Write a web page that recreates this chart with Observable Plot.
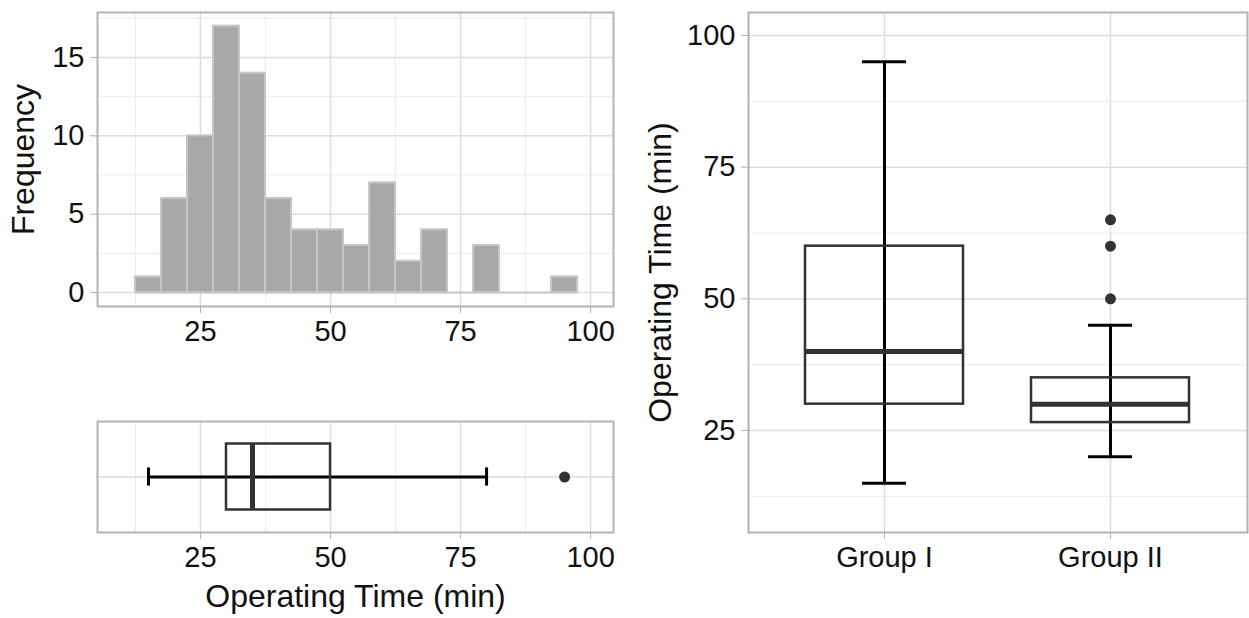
<!DOCTYPE html>
<html>
<head>
<meta charset="utf-8">
<script src="https://cdn.jsdelivr.net/npm/d3@7"></script>
<script src="https://cdn.jsdelivr.net/npm/@observablehq/plot@0.6"></script>
<style>
  html, body { margin: 0; padding: 0; background: #fff; }
  #wrap { position: relative; width: 1249px; height: 618px; overflow: hidden; background: #fff; }
  .panel { position: absolute; }
</style>
</head>
<body>
<div id="wrap">
  <div class="panel" id="hist" style="left:0;top:0;"></div>
  <div class="panel" id="box1" style="left:0;top:400px;"></div>
  <div class="panel" id="box2" style="left:630px;top:0;"></div>
</div>
<script>
// ---------- DATA ----------
// Histogram of operating time (bin width 5 min)
const binLo     = [12.5, 17.5, 22.5, 27.5, 32.5, 37.5, 42.5, 47.5, 52.5, 57.5, 62.5, 67.5, 72.5, 77.5, 82.5, 87.5, 92.5];
const binHi     = [17.5, 22.5, 27.5, 32.5, 37.5, 42.5, 47.5, 52.5, 57.5, 62.5, 67.5, 72.5, 77.5, 82.5, 87.5, 92.5, 97.5];
const binCounts = [1, 6, 10, 17, 14, 6, 4, 4, 3, 7, 2, 4, 0, 3, 0, 0, 1];

// Overall boxplot summary (min)
const allLower = [15];
const allQ1 = [30];
const allMedian = [35];
const allQ3 = [50];
const allUpper = [80];
const allOutliers = [95];

// Grouped boxplot summary (min)
const groups      = ["Group I", "Group II"];
const groupLower  = [15, 20];
const groupQ1     = [30, 26.5];
const groupMedian = [40, 30];
const groupQ3     = [60, 35];
const groupUpper  = [95, 45];
const outlierGroup = ["Group II", "Group II", "Group II"];
const outlierValue = [50, 60, 65];

// Tick labels / grid breaks
const timeTicks      = [25, 50, 75, 100];
const timeMinorTicks = [12.5, 37.5, 62.5, 87.5];
const freqTicks      = [0, 5, 10, 15];
const freqMinorTicks = [2.5, 7.5, 12.5, 17.5];

// ---------- TABLES ----------
const bins = binLo.map((lo, i) => ({lo, hi: binHi[i], count: binCounts[i]}));
const allStats = [{lower: allLower[0], q1: allQ1[0], median: allMedian[0], q3: allQ3[0], upper: allUpper[0]}];
const groupStats = groups.map((g, i) => ({group: g, lower: groupLower[i], q1: groupQ1[i], median: groupMedian[i], q3: groupQ3[i], upper: groupUpper[i]}));
const outliers = outlierGroup.map((g, i) => ({group: g, value: outlierValue[i]}));

// ---------- STYLE ----------
const FONT = "'Liberation Sans', Arial, Helvetica, sans-serif";
const MAJOR = "#dedede", MINOR = "#ededed", BORDER = "#b3b3b3", TEXT = "#111111";
const BOXC = "#333333";
const TICKFS = "29px", TITLEFS = 32;
const style = {fontFamily: FONT, fontSize: TICKFS, color: TEXT, background: "white", overflow: "visible"};

// ---------- HISTOGRAM ----------
const hist = Plot.plot({
  width: 630, height: 340,
  marginLeft: 97, marginRight: 17, marginTop: 12, marginBottom: 34,
  x: {domain: [5.2, 104.4]},
  y: {domain: [-0.89, 17.87]},
  style,
  marks: [
    Plot.ruleX(timeMinorTicks, {stroke: MINOR, strokeWidth: 1}),
    Plot.ruleY(freqMinorTicks, {stroke: MINOR, strokeWidth: 1}),
    Plot.ruleX(timeTicks, {stroke: MAJOR, strokeWidth: 1.5}),
    Plot.ruleY(freqTicks, {stroke: MAJOR, strokeWidth: 1.5}),
    Plot.rect(bins, {x1: "lo", x2: "hi", y1: 0, y2: "count", fill: "#a8a8a8", stroke: "#c6c6c6", strokeWidth: 2}),
    Plot.ruleY(bins, {y: 0, x1: "lo", x2: "hi", stroke: "#c6c6c6", strokeWidth: 2}),
    Plot.frame({stroke: BORDER, strokeWidth: 2}),
    Plot.axisX(timeTicks, {tickSize: 7, tickPadding: 7, stroke: BORDER, fill: TEXT, label: null}),
    Plot.axisY(freqTicks, {tickSize: 7, tickPadding: 6, stroke: BORDER, fill: TEXT, label: null}),
    Plot.text(["Frequency"], {text: d => d, frameAnchor: "left", textAnchor: "middle", dx: -74, rotate: -90, fontSize: TITLEFS, fill: TEXT})
  ]
});
document.getElementById("hist").appendChild(hist);

// ---------- OVERALL BOXPLOT (horizontal) ----------
const BOXH = 0.654, CAPH = 0.18;
const box1 = Plot.plot({
  width: 630, height: 218,
  marginLeft: 97, marginRight: 17, marginTop: 21, marginBottom: 86,
  x: {domain: [5.2, 104.4]},
  y: {domain: [-1.1, 1.1], axis: null},
  style,
  marks: [
    Plot.ruleX(timeMinorTicks, {stroke: MINOR, strokeWidth: 1}),
    Plot.ruleX(timeTicks, {stroke: MAJOR, strokeWidth: 1.5}),
    Plot.ruleY([0], {stroke: MAJOR, strokeWidth: 1.5}),
    Plot.ruleY(allStats, {y: 0, x1: "lower", x2: "upper", stroke: "#000", strokeWidth: 3}),
    Plot.ruleX(allStats, {x: "lower", y1: -CAPH, y2: CAPH, stroke: "#000", strokeWidth: 3}),
    Plot.ruleX(allStats, {x: "upper", y1: -CAPH, y2: CAPH, stroke: "#000", strokeWidth: 3}),
    Plot.rect(allStats, {x1: "q1", x2: "q3", y1: -BOXH, y2: BOXH, fill: "none", stroke: BOXC, strokeWidth: 2.5}),
    Plot.ruleX(allStats, {x: "median", y1: -BOXH, y2: BOXH, stroke: BOXC, strokeWidth: 5}),
    Plot.dot(allOutliers, {x: d => d, y: 0, r: 5.5, fill: BOXC, stroke: "none"}),
    Plot.frame({stroke: BORDER, strokeWidth: 2}),
    Plot.axisX(timeTicks, {tickSize: 7, tickPadding: 7, stroke: BORDER, fill: TEXT, label: null}),
    Plot.text(["Operating Time (min)"], {text: d => d, frameAnchor: "bottom", dy: 74, fontSize: TITLEFS, fill: TEXT})
  ]
});
document.getElementById("box1").appendChild(box1);

// ---------- GROUPED BOXPLOT (vertical) ----------
const CAP_INSET = 57;
const box2 = Plot.plot({
  width: 619, height: 618,
  marginLeft: 118, marginRight: 2, marginTop: 12, marginBottom: 86,
  x: {type: "band", domain: groups, paddingInner: 0.3, paddingOuter: 0.25},
  y: {domain: [5.63, 104.37]},
  style,
  marks: [
    Plot.ruleY(timeMinorTicks, {stroke: MINOR, strokeWidth: 1}),
    Plot.ruleY(timeTicks, {stroke: MAJOR, strokeWidth: 1.5}),
    Plot.ruleX(groups, {stroke: MAJOR, strokeWidth: 1.5}),
    Plot.ruleX(groupStats, {x: "group", y1: "lower", y2: "upper", stroke: "#000", strokeWidth: 3}),
    Plot.tickY(groupStats, {x: "group", y: "lower", insetLeft: CAP_INSET, insetRight: CAP_INSET, stroke: "#000", strokeWidth: 3}),
    Plot.tickY(groupStats, {x: "group", y: "upper", insetLeft: CAP_INSET, insetRight: CAP_INSET, stroke: "#000", strokeWidth: 3}),
    Plot.barY(groupStats, {x: "group", y1: "q1", y2: "q3", inset: 0, fill: "none", stroke: BOXC, strokeWidth: 2.5}),
    Plot.tickY(groupStats, {x: "group", y: "median", stroke: BOXC, strokeWidth: 5}),
    Plot.dot(outliers, {x: "group", y: "value", r: 5.5, fill: BOXC, stroke: "none"}),
    Plot.frame({stroke: BORDER, strokeWidth: 2}),
    Plot.axisX({tickSize: 7, tickPadding: 7, stroke: BORDER, fill: TEXT, label: null}),
    Plot.axisY(timeTicks, {tickSize: 7, tickPadding: 6, stroke: BORDER, fill: TEXT, label: null}),
    Plot.text(["Operating Time (min)"], {text: d => d, frameAnchor: "left", textAnchor: "middle", dx: -88, rotate: -90, fontSize: TITLEFS, fill: TEXT})
  ]
});
document.getElementById("box2").appendChild(box2);
</script>
</body>
</html>
